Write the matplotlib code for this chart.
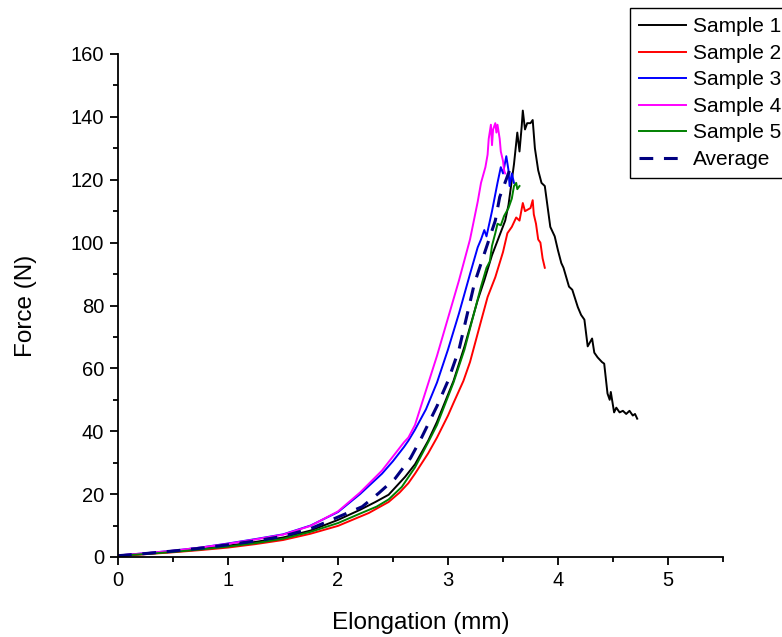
import matplotlib
matplotlib.use("Agg")
import matplotlib.pyplot as plt
from matplotlib.ticker import MultipleLocator

plt.rcParams['font.family'] = ['Liberation Sans', 'DejaVu Sans']

# Sample 1 (black)
s1_x = [0, 0.25, 0.5, 0.75, 1, 1.25, 1.5, 1.75, 2, 2.2, 2.34, 2.46, 2.61, 2.7, 2.82, 2.9, 3.05, 3.15,
        3.27, 3.33, 3.4, 3.52, 3.55, 3.6, 3.63, 3.65, 3.67, 3.68, 3.7, 3.72, 3.75, 3.77, 3.79, 3.82,
        3.85, 3.88, 3.93, 3.97, 4.0, 4.03, 4.05, 4.1, 4.13, 4.18, 4.21, 4.24, 4.27, 4.31, 4.33, 4.36,
        4.4, 4.42, 4.45, 4.47, 4.48, 4.51, 4.53, 4.56, 4.59, 4.62, 4.65, 4.68, 4.7, 4.72]
s1_y = [0.4, 1.0, 1.7, 2.6, 3.6, 4.8, 6.2, 8.4, 11.8, 15, 17.5, 19.8, 25.5, 29.5, 37, 43, 56, 67,
        81.7, 88, 96, 107, 112, 125, 135, 129, 137, 142, 136, 138, 138, 139, 130, 123,
        119, 118, 105, 102, 97.5, 93.5, 92, 86, 85, 79.5, 77, 75.5, 67, 69.5, 65, 63.5,
        62, 61.5, 52, 50, 52.5, 46, 47.5, 46, 46.5, 45.5, 46.5, 45, 45.5, 44]

# Sample 2 (red)
s2_x = [0, 0.25, 0.5, 0.75, 1, 1.25, 1.5, 1.75, 2, 2.28, 2.46, 2.56, 2.64, 2.7, 2.82, 2.9, 3.0, 3.05,
        3.14, 3.2, 3.3, 3.36, 3.43, 3.5, 3.54, 3.58, 3.62, 3.65, 3.68, 3.7, 3.72, 3.75, 3.77, 3.78,
        3.8, 3.82, 3.84, 3.86, 3.88]
s2_y = [0.3, 0.9, 1.5, 2.2, 3.0, 4.1, 5.4, 7.4, 9.9, 14, 17.5, 20.5, 23.5, 26.5, 33, 38, 45, 49,
        56, 62, 75, 82.7, 89, 97, 103, 105, 108, 107, 112.6, 110, 110.4, 111, 113.5, 109,
        106, 101, 100, 95, 92]

# Sample 3 (blue)
s3_x = [0, 0.25, 0.5, 0.75, 1, 1.25, 1.5, 1.75, 2, 2.2, 2.4, 2.5, 2.6, 2.64, 2.7, 2.8, 2.9, 3.0,
        3.1, 3.2, 3.27, 3.3, 3.33, 3.35, 3.4, 3.45, 3.48, 3.5, 3.53, 3.55, 3.56, 3.58, 3.6]
s3_y = [0.5, 1.2, 2.0, 3.0, 4.3, 5.7, 7.2, 10.0, 14.3, 20, 26.5, 30.5, 35, 37, 40.5, 47, 55.5, 66,
        77.5, 90, 98.5, 101, 104, 102, 110, 119, 124, 122, 127.5, 123, 118, 122, 119]

# Sample 4 (magenta)
s4_x = [0, 0.25, 0.5, 0.75, 1, 1.25, 1.5, 1.75, 2, 2.2, 2.4, 2.5, 2.6, 2.64, 2.7, 2.8, 2.9, 3.0,
        3.1, 3.2, 3.27, 3.3, 3.34, 3.36, 3.37, 3.39, 3.4, 3.41, 3.43, 3.44, 3.45, 3.47, 3.48, 3.5,
        3.51, 3.52]
s4_y = [0.5, 1.2, 2.0, 3.0, 4.2, 5.6, 7.1, 9.9, 14.5, 20.5, 27.5, 32, 36.5, 38, 42, 53, 64, 76,
        88, 101, 113, 119, 124, 128, 133, 137.5, 131, 136, 138, 135, 137.5, 133, 129, 126,
        123, 122]

# Sample 5 (green)
s5_x = [0, 0.25, 0.5, 0.75, 1, 1.25, 1.5, 1.75, 2, 2.2, 2.35, 2.46, 2.58, 2.7, 2.82, 2.9, 3.05,
        3.15, 3.3, 3.35, 3.38, 3.4, 3.43, 3.45, 3.48, 3.51, 3.55, 3.58, 3.6, 3.62, 3.63, 3.65]
s5_y = [0.4, 0.95, 1.6, 2.4, 3.3, 4.4, 5.8, 8.0, 10.8, 13.8, 16, 18.3, 22.3, 28.5, 36.5, 42, 55.5,
        66, 86, 92, 94, 99, 103, 106, 105.5, 108.5, 111, 114, 118, 119, 117, 118]

# Average (dashed navy)
avg_x = [0, 0.25, 0.5, 0.75, 1, 1.25, 1.5, 1.75, 2, 2.22, 2.37, 2.52, 2.66, 2.76, 2.9, 3.0, 3.1,
         3.24, 3.43, 3.47, 3.56, 3.58]
avg_y = [0.4, 1.1, 1.9, 2.8, 3.9, 5.1, 6.6, 9.0, 12.7, 16, 20.3, 25, 31.5, 38, 48, 56, 66,
         87, 107, 114.5, 123, 125]

labels = ["Sample 1", "Sample 2", "Sample 3", "Sample 4", "Sample 5", "Average"]

W, H = 782, 637
fig = plt.figure(figsize=(W / 100, H / 100), dpi=100)
ax = fig.add_axes([118 / W, 1 - 557 / H, (723 - 118) / W, (557 - 54) / H])

ax.plot(s1_x, s1_y, color='black', lw=1.4, label=labels[0])
ax.plot(s2_x, s2_y, color='#ff0000', lw=1.4, label=labels[1])
ax.plot(s3_x, s3_y, color='#0000ff', lw=1.4, label=labels[2])
ax.plot(s4_x, s4_y, color='#ff00ff', lw=1.4, label=labels[3])
ax.plot(s5_x, s5_y, color='#008000', lw=1.4, label=labels[4])
ax.plot(avg_x, avg_y, color='#000080', lw=2.2, ls=(0, (4.5, 3.5)), label=labels[5])

ax.set_xlim(0, 5.5)
ax.set_ylim(0, 160)
ax.xaxis.set_major_locator(MultipleLocator(1))
ax.xaxis.set_minor_locator(MultipleLocator(0.5))
ax.yaxis.set_major_locator(MultipleLocator(20))
ax.yaxis.set_minor_locator(MultipleLocator(10))
for s in ['top', 'right']:
    ax.spines[s].set_visible(False)
for s in ['left', 'bottom']:
    ax.spines[s].set_linewidth(1.3)
ax.tick_params(which='major', direction='out', length=6, width=1.3, labelsize=14.5, pad=4)
ax.tick_params(which='minor', direction='out', length=3.5, width=1.3)
ax.set_xlabel("Elongation (mm)", fontsize=17.5, labelpad=16)
ax.set_ylabel("Force (N)", fontsize=17.5, labelpad=24)

leg = fig.legend(loc='upper left', bbox_to_anchor=(630 / W, 1 - 8 / H), fontsize=15,
                 frameon=True, fancybox=False, edgecolor='black', framealpha=1,
                 handlelength=2.25, labelspacing=0.36, borderpad=0.45, handletextpad=0.33,
                 borderaxespad=0)
leg.get_frame().set_linewidth(1.0)

fig.savefig("out.png", dpi=100)
